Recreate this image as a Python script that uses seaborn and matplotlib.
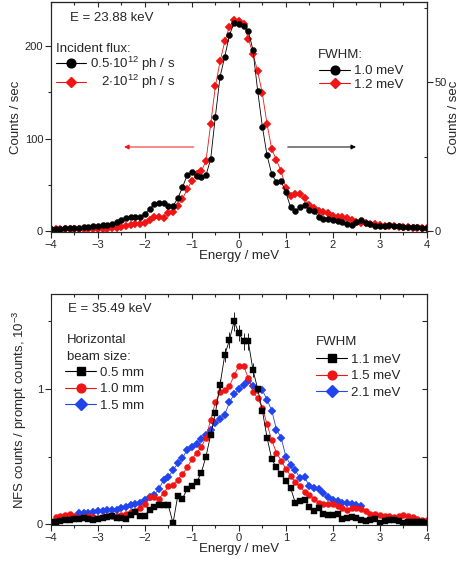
import numpy as np
import pandas as pd
import matplotlib
matplotlib.use("Agg")
import matplotlib.pyplot as plt
from matplotlib.lines import Line2D
from matplotlib.legend import Legend
from matplotlib.ticker import MultipleLocator
import seaborn as sns

# energy grid (meV), shared by the scans
ENERGY = [-4.0, -3.9, -3.8, -3.7, -3.6, -3.5, -3.4, -3.3, -3.2, -3.1,
          -3.0, -2.9, -2.8, -2.7, -2.6, -2.5, -2.4, -2.3, -2.2, -2.1,
          -2.0, -1.9, -1.8, -1.7, -1.6, -1.5, -1.4, -1.3, -1.2, -1.1,
          -1.0, -0.9, -0.8, -0.7, -0.6, -0.5, -0.4, -0.3, -0.2, -0.1,
          0.0, 0.1, 0.2, 0.3, 0.4, 0.5, 0.6, 0.7, 0.8, 0.9,
          1.0, 1.1, 1.2, 1.3, 1.4, 1.5, 1.6, 1.7, 1.8, 1.9,
          2.0, 2.1, 2.2, 2.3, 2.4, 2.5, 2.6, 2.7, 2.8, 2.9,
          3.0, 3.1, 3.2, 3.3, 3.4, 3.5, 3.6, 3.7, 3.8, 3.9, 4.0]

# top panel: 23.88 keV, black on right axis, red on left axis (counts / sec)
low_flux = [0.8, 0.8, 0.8, 1.0, 1.0, 1.2, 1.0, 1.3, 1.5, 1.7,
            1.8, 2.0, 2.2, 2.3, 3.0, 3.7, 4.3, 4.7, 4.7, 4.8,
            5.7, 7.4, 9.0, 9.5, 9.4, 8.5, 8.4, 11.0, 14.7, 18.7,
            19.7, 18.4, 18.0, 18.7, 24.1, 38.4, 51.8, 58.5, 65.8, 69.9,
            69.5, 68.9, 67.2, 60.8, 47.1, 35.1, 25.4, 19.1, 16.4, 16.7,
            13.0, 8.0, 6.7, 8.0, 8.7, 7.0, 6.7, 4.7, 4.0, 4.2,
            3.8, 3.5, 3.0, 2.5, 2.0, 3.0, 3.7, 2.8, 2.3, 1.8,
            1.8, 1.8, 2.0, 1.8, 1.7, 1.5, 1.3, 1.5, 1.5, 1.0, 1.2]
high_flux = [2.2, 2.2, 2.2, 2.2, 2.2, 2.2, 2.2, 2.2, 2.2, 2.2,
             2.2, 2.2, 2.7, 3.2, 3.8, 4.9, 5.4, 6.5, 7.6, 8.1,
             8.6, 11.9, 15.1, 15.7, 14.6, 19.4, 20.5, 27.0, 34.6, 45.4,
             54.0, 61.6, 64.8, 75.6, 115.6, 156.6, 183.6, 205.2, 221.4, 229.0,
             227.9, 224.6, 208.4, 192.2, 172.8, 149.0, 115.6, 88.6, 76.7, 64.8,
             46.4, 37.8, 40.0, 40.0, 35.6, 28.1, 24.8, 21.6, 20.5, 19.4,
             16.7, 15.7, 15.1, 14.0, 11.9, 10.3, 9.2, 8.6, 8.1, 7.6,
             6.5, 5.9, 5.9, 5.4, 4.9, 4.3, 4.3, 3.8, 3.8, 3.2, 3.2]

# bottom panel: 35.49 keV, NFS / prompt counts (10^-3)
beam_05 = [0.02, 0.02, 0.025, 0.03, 0.035, 0.04, 0.04, 0.045, 0.04, 0.035,
           0.04, 0.045, 0.055, 0.06, 0.05, 0.045, 0.04, 0.07, 0.09, 0.06,
           0.065, 0.11, 0.13, 0.14, 0.14, 0.14, 0.01, 0.21, 0.19, 0.26,
           0.28, 0.31, 0.38, 0.50, 0.66, 0.82, 1.03, 1.25, 1.36, 1.50,
           1.41, 1.35, 1.35, 1.14, 1.00, 0.84, 0.64, 0.48, 0.42, 0.37,
           0.32, 0.27, 0.16, 0.17, 0.18, 0.13, 0.10, 0.12, 0.08, 0.066,
           0.073, 0.08, 0.04, 0.045, 0.055, 0.05, 0.03, 0.025, 0.035, 0.04,
           0.01, 0.025, 0.03, 0.03, 0.025, 0.01, 0.015, 0.017, 0.015, 0.017, 0.01]
beam_05_err = [0.0] * 36 + [0.04, 0.05, 0.06, 0.07, 0.06, 0.06, 0.06, 0.05] + [0.0] * 37
beam_10 = [0.056, 0.06, 0.07, 0.074, 0.06, 0.05, 0.055, 0.06, 0.055,
           0.05, 0.055, 0.06, 0.06, 0.06, 0.07, 0.08, 0.09, 0.10, 0.12,
           0.15, 0.20, 0.20, 0.19, 0.23, 0.28, 0.29, 0.33, 0.37, 0.42,
           0.48, 0.53, 0.57, 0.64, 0.77, 0.90, 0.98, 0.99, 1.02, 1.10,
           1.17, 1.17, 1.08, 0.98, 0.93, 0.86, 0.74, 0.62, 0.53, 0.47,
           0.41, 0.36, 0.31, 0.28, 0.24, 0.22, 0.19, 0.16, 0.15, 0.15,
           0.15, 0.135, 0.12, 0.11, 0.12, 0.12, 0.115, 0.10, 0.08, 0.075,
           0.07, 0.065, 0.06, 0.056, 0.06, 0.066, 0.06, 0.056, 0.04, 0.03, 0.03]
beam_15 = [0.086, 0.086, 0.085, 0.095,
           0.10, 0.10, 0.105, 0.11, 0.11, 0.12, 0.13, 0.145, 0.15, 0.16,
           0.18, 0.20, 0.22, 0.26, 0.33, 0.35, 0.40, 0.45, 0.49, 0.55,
           0.57, 0.59, 0.63, 0.66, 0.70, 0.75, 0.78, 0.81, 0.90, 0.96,
           1.00, 1.03, 1.06, 1.02, 0.99, 0.99, 0.92, 0.84, 0.70, 0.64,
           0.50, 0.44, 0.40, 0.34, 0.35, 0.28, 0.27, 0.26, 0.23, 0.20,
           0.18, 0.17, 0.16, 0.16, 0.15, 0.14, 0.135]

BLACK = "#000000"
RED = "#f01414"
BLUE = "#2244ee"
FS = 9.5
TFS = 8

sns.set_style("ticks")
plt.rcParams["font.family"] = ["Liberation Sans", "DejaVu Sans"]
plt.rcParams["mathtext.default"] = "regular"
plt.rcParams["axes.linewidth"] = 0.8


def draw(ax, x, y, color, marker, ms):
    sns.lineplot(x=x, y=y, ax=ax, color=color, marker=marker, markersize=ms,
                 markeredgecolor=color, markeredgewidth=0.3, linewidth=0.6,
                 sort=False, errorbar=None, legend=False)


def handle(color, marker, ms):
    return Line2D([], [], color=color, marker=marker, markersize=ms + 2,
                  markeredgecolor=color, linewidth=0.8)


def style_x(ax):
    ax.set_xlim(-4, 4)
    ax.xaxis.set_major_locator(MultipleLocator(1))
    ax.xaxis.set_minor_locator(MultipleLocator(0.5))
    ax.tick_params(axis="x", which="both", direction="out", labelsize=TFS, pad=1.5, width=0.8)
    ax.tick_params(axis="x", which="major", length=4)
    ax.tick_params(axis="x", which="minor", length=2.5)
    ax.set_xlabel("Energy / meV", fontsize=FS, labelpad=0)
    top = ax.secondary_xaxis("top")
    top.xaxis.set_major_locator(MultipleLocator(1))
    top.xaxis.set_minor_locator(MultipleLocator(0.5))
    top.tick_params(axis="x", which="both", direction="in", labeltop=False, width=0.8)
    top.tick_params(axis="x", which="major", length=3.5)
    top.tick_params(axis="x", which="minor", length=2.5)


def legend(ax, handles, labels, anchor, spacing, title=None):
    leg = Legend(ax, handles, labels, title=title, loc="upper left", bbox_to_anchor=anchor,
                 frameon=False, fontsize=FS, title_fontsize=FS, handlelength=2.3,
                 handletextpad=0.3, borderaxespad=0, labelspacing=spacing)
    leg._legend_box.align = "left"
    ax.add_artist(leg)
    return leg


fig = plt.figure(figsize=(4.62, 5.61), dpi=100)

# ---- top panel
ax1 = fig.add_axes([0.110, 0.5865, 0.814, 0.41])
ax1r = ax1.twinx()
draw(ax1, ENERGY, high_flux, RED, "D", 3.6)
draw(ax1r, ENERGY, low_flux, BLACK, "o", 4.3)
ax1.set_ylim(-1, 248)
ax1r.set_ylim(-0.3, 76.9)
style_x(ax1)
ax1.yaxis.set_major_locator(MultipleLocator(100))
ax1.yaxis.set_minor_locator(MultipleLocator(50))
ax1.tick_params(axis="y", which="both", labelsize=TFS, direction="out", width=0.8, pad=1.5)
ax1.tick_params(axis="y", which="major", length=4)
ax1.tick_params(axis="y", which="minor", length=2.5)
ax1r.yaxis.set_major_locator(MultipleLocator(50))
ax1r.yaxis.set_minor_locator(MultipleLocator(25))
ax1r.tick_params(axis="y", which="both", labelsize=TFS, direction="out", width=0.8, pad=1.5)
ax1r.tick_params(axis="y", which="major", length=4)
ax1r.tick_params(axis="y", which="minor", length=2.5, direction="in")
ax1.set_ylabel("Counts / sec", fontsize=FS, labelpad=2)
ax1r.set_ylabel("Counts / sec", fontsize=FS, labelpad=1)
ax1.text(0.05, 0.93, "E = 23.88 keV", transform=ax1.transAxes, fontsize=FS, va="center")
ax1.annotate("", xy=(-2.5, 91), xytext=(-0.9, 91),
             arrowprops=dict(arrowstyle="-|>", color=RED, lw=0.7, mutation_scale=7))
ax1.annotate("", xy=(2.55, 91), xytext=(0.98, 91),
             arrowprops=dict(arrowstyle="-|>", color=BLACK, lw=0.7, mutation_scale=7))

h_top = [handle(BLACK, "o", 4.3), handle(RED, "D", 3.6)]
legend(ax1, h_top, [r"0.5$\cdot$10$^{12}$ ph / s", r"   2$\cdot$10$^{12}$ ph / s"],
       (0.0, 0.845), 0.0, title="Incident flux:")
ax1.text(0.71, 0.770, "FWHM:", transform=ax1.transAxes, fontsize=FS, va="center")
legend(ax1, h_top, ["1.0 meV", "1.2 meV"], (0.70, 0.748), 0.1)

# ---- bottom panel
ax2 = fig.add_axes([0.110, 0.064, 0.814, 0.412])
draw(ax2, ENERGY[6:67], beam_15, BLUE, "D", 3.8)
draw(ax2, ENERGY[1:], beam_10, RED, "o", 4.3)
ax2.errorbar(ENERGY, beam_05, yerr=beam_05_err, fmt="none", ecolor=BLACK, elinewidth=0.6)
draw(ax2, ENERGY, beam_05, BLACK, "s", 4.0)
ax2.set_ylim(-0.005, 1.70)
style_x(ax2)
ax2.yaxis.set_major_locator(MultipleLocator(1))
ax2.yaxis.set_minor_locator(MultipleLocator(0.5))
ax2.tick_params(axis="y", which="both", labelsize=TFS, direction="out", width=0.8, pad=1.5)
ax2.tick_params(axis="y", which="major", length=4)
ax2.tick_params(axis="y", which="minor", length=2.5)
right = ax2.secondary_yaxis("right")
right.yaxis.set_major_locator(MultipleLocator(0.5))
right.tick_params(axis="y", direction="in", labelright=False, length=3.5, width=0.8)
ax2.set_ylabel(r"NFS counts / prompt counts, 10$^{-3}$", fontsize=FS, labelpad=6)
ax2.text(0.045, 0.935, "E = 35.49 keV", transform=ax2.transAxes, fontsize=FS, va="center")

h_bot = [handle(BLACK, "s", 4.0), handle(RED, "o", 4.3), handle(BLUE, "D", 3.8)]
ax2.text(0.0425, 0.801, "Horizontal", transform=ax2.transAxes, fontsize=FS, va="center")
ax2.text(0.0425, 0.727, "beam size:", transform=ax2.transAxes, fontsize=FS, va="center")
legend(ax2, h_bot, ["0.5 mm", "1.0 mm", "1.5 mm"], (0.025, 0.71), 0.34)
ax2.text(0.705, 0.792, "FWHM", transform=ax2.transAxes, fontsize=FS, va="center")
legend(ax2, h_bot, ["1.1 meV", "1.5 meV", "2.1 meV"], (0.692, 0.766), 0.34)

fig.savefig("out.png", dpi=100)
